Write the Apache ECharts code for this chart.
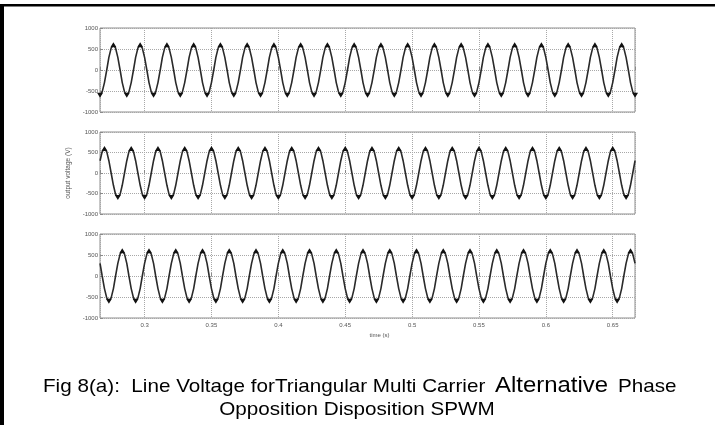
<!DOCTYPE html>
<html>
<head>
<meta charset="utf-8">
<script src="https://cdn.jsdelivr.net/npm/echarts@6/dist/echarts.min.js"></script>
<style>
  html, body { margin: 0; padding: 0; background: #fff; }
  #chart { width: 715px; height: 425px; }
</style>
</head>
<body>
<div id="chart"></div>
<script>
// Sample instants of the scope trace (s)
const timeS = [
  0.2667, 0.2683,
  0.2700, 0.2717, 0.2733, 0.2750, 0.2767, 0.2783,
  0.2800, 0.2817, 0.2833, 0.2850, 0.2867, 0.2883,
  0.2900, 0.2917, 0.2933, 0.2950, 0.2967, 0.2983,
  0.3000, 0.3017, 0.3033, 0.3050, 0.3067, 0.3083,
  0.3100, 0.3117, 0.3133, 0.3150, 0.3167, 0.3183,
  0.3200, 0.3217, 0.3233, 0.3250, 0.3267, 0.3283,
  0.3300, 0.3317, 0.3333, 0.3350, 0.3367, 0.3383,
  0.3400, 0.3417, 0.3433, 0.3450, 0.3467, 0.3483,
  0.3500, 0.3517, 0.3533, 0.3550, 0.3567, 0.3583,
  0.3600, 0.3617, 0.3633, 0.3650, 0.3667, 0.3683,
  0.3700, 0.3717, 0.3733, 0.3750, 0.3767, 0.3783,
  0.3800, 0.3817, 0.3833, 0.3850, 0.3867, 0.3883,
  0.3900, 0.3917, 0.3933, 0.3950, 0.3967, 0.3983,
  0.4000, 0.4017, 0.4033, 0.4050, 0.4067, 0.4083,
  0.4100, 0.4117, 0.4133, 0.4150, 0.4167, 0.4183,
  0.4200, 0.4217, 0.4233, 0.4250, 0.4267, 0.4283,
  0.4300, 0.4317, 0.4333, 0.4350, 0.4367, 0.4383,
  0.4400, 0.4417, 0.4433, 0.4450, 0.4467, 0.4483,
  0.4500, 0.4517, 0.4533, 0.4550, 0.4567, 0.4583,
  0.4600, 0.4617, 0.4633, 0.4650, 0.4667, 0.4683,
  0.4700, 0.4717, 0.4733, 0.4750, 0.4767, 0.4783,
  0.4800, 0.4817, 0.4833, 0.4850, 0.4867, 0.4883,
  0.4900, 0.4917, 0.4933, 0.4950, 0.4967, 0.4983,
  0.5000, 0.5017, 0.5033, 0.5050, 0.5067, 0.5083,
  0.5100, 0.5117, 0.5133, 0.5150, 0.5167, 0.5183,
  0.5200, 0.5217, 0.5233, 0.5250, 0.5267, 0.5283,
  0.5300, 0.5317, 0.5333, 0.5350, 0.5367, 0.5383,
  0.5400, 0.5417, 0.5433, 0.5450, 0.5467, 0.5483,
  0.5500, 0.5517, 0.5533, 0.5550, 0.5567, 0.5583,
  0.5600, 0.5617, 0.5633, 0.5650, 0.5667, 0.5683,
  0.5700, 0.5717, 0.5733, 0.5750, 0.5767, 0.5783,
  0.5800, 0.5817, 0.5833, 0.5850, 0.5867, 0.5883,
  0.5900, 0.5917, 0.5933, 0.5950, 0.5967, 0.5983,
  0.6000, 0.6017, 0.6033, 0.6050, 0.6067, 0.6083,
  0.6100, 0.6117, 0.6133, 0.6150, 0.6167, 0.6183,
  0.6200, 0.6217, 0.6233, 0.6250, 0.6267, 0.6283,
  0.6300, 0.6317, 0.6333, 0.6350, 0.6367, 0.6383,
  0.6400, 0.6417, 0.6433, 0.6450, 0.6467, 0.6483,
  0.6500, 0.6517, 0.6533, 0.6550, 0.6567, 0.6583,
  0.6600, 0.6617, 0.6633, 0.6650, 0.6667
];

// Line voltage Vab (V)
const vab = [
  -600, -520, -300, 0, 300, 520, 600, 520, 300, 0, -300, -520,
  -600, -520, -300, 0, 300, 520, 600, 520, 300, 0, -300, -520,
  -600, -520, -300, 0, 300, 520, 600, 520, 300, 0, -300, -520,
  -600, -520, -300, 0, 300, 520, 600, 520, 300, 0, -300, -520,
  -600, -520, -300, 0, 300, 520, 600, 520, 300, 0, -300, -520,
  -600, -520, -300, 0, 300, 520, 600, 520, 300, 0, -300, -520,
  -600, -520, -300, 0, 300, 520, 600, 520, 300, 0, -300, -520,
  -600, -520, -300, 0, 300, 520, 600, 520, 300, 0, -300, -520,
  -600, -520, -300, 0, 300, 520, 600, 520, 300, 0, -300, -520,
  -600, -520, -300, 0, 300, 520, 600, 520, 300, 0, -300, -520,
  -600, -520, -300, 0, 300, 520, 600, 520, 300, 0, -300, -520,
  -600, -520, -300, 0, 300, 520, 600, 520, 300, 0, -300, -520,
  -600, -520, -300, 0, 300, 520, 600, 520, 300, 0, -300, -520,
  -600, -520, -300, 0, 300, 520, 600, 520, 300, 0, -300, -520,
  -600, -520, -300, 0, 300, 520, 600, 520, 300, 0, -300, -520,
  -600, -520, -300, 0, 300, 520, 600, 520, 300, 0, -300, -520,
  -600, -520, -300, 0, 300, 520, 600, 520, 300, 0, -300, -520,
  -600, -520, -300, 0, 300, 520, 600, 520, 300, 0, -300, -520,
  -600, -520, -300, 0, 300, 520, 600, 520, 300, 0, -300, -520,
  -600, -520, -300, 0, 300, 520, 600, 520, 300, 0, -300, -520,
  -600
];

// Line voltage Vbc (V)
const vbc = [
  300, 520, 600, 520, 300, 0, -300, -520, -600, -520, -300, 0,
  300, 520, 600, 520, 300, 0, -300, -520, -600, -520, -300, 0,
  300, 520, 600, 520, 300, 0, -300, -520, -600, -520, -300, 0,
  300, 520, 600, 520, 300, 0, -300, -520, -600, -520, -300, 0,
  300, 520, 600, 520, 300, 0, -300, -520, -600, -520, -300, 0,
  300, 520, 600, 520, 300, 0, -300, -520, -600, -520, -300, 0,
  300, 520, 600, 520, 300, 0, -300, -520, -600, -520, -300, 0,
  300, 520, 600, 520, 300, 0, -300, -520, -600, -520, -300, 0,
  300, 520, 600, 520, 300, 0, -300, -520, -600, -520, -300, 0,
  300, 520, 600, 520, 300, 0, -300, -520, -600, -520, -300, 0,
  300, 520, 600, 520, 300, 0, -300, -520, -600, -520, -300, 0,
  300, 520, 600, 520, 300, 0, -300, -520, -600, -520, -300, 0,
  300, 520, 600, 520, 300, 0, -300, -520, -600, -520, -300, 0,
  300, 520, 600, 520, 300, 0, -300, -520, -600, -520, -300, 0,
  300, 520, 600, 520, 300, 0, -300, -520, -600, -520, -300, 0,
  300, 520, 600, 520, 300, 0, -300, -520, -600, -520, -300, 0,
  300, 520, 600, 520, 300, 0, -300, -520, -600, -520, -300, 0,
  300, 520, 600, 520, 300, 0, -300, -520, -600, -520, -300, 0,
  300, 520, 600, 520, 300, 0, -300, -520, -600, -520, -300, 0,
  300, 520, 600, 520, 300, 0, -300, -520, -600, -520, -300, 0,
  300
];

// Line voltage Vca (V)
const vca = [
  300, 0, -300, -520, -600, -520, -300, 0, 300, 520, 600, 520,
  300, 0, -300, -520, -600, -520, -300, 0, 300, 520, 600, 520,
  300, 0, -300, -520, -600, -520, -300, 0, 300, 520, 600, 520,
  300, 0, -300, -520, -600, -520, -300, 0, 300, 520, 600, 520,
  300, 0, -300, -520, -600, -520, -300, 0, 300, 520, 600, 520,
  300, 0, -300, -520, -600, -520, -300, 0, 300, 520, 600, 520,
  300, 0, -300, -520, -600, -520, -300, 0, 300, 520, 600, 520,
  300, 0, -300, -520, -600, -520, -300, 0, 300, 520, 600, 520,
  300, 0, -300, -520, -600, -520, -300, 0, 300, 520, 600, 520,
  300, 0, -300, -520, -600, -520, -300, 0, 300, 520, 600, 520,
  300, 0, -300, -520, -600, -520, -300, 0, 300, 520, 600, 520,
  300, 0, -300, -520, -600, -520, -300, 0, 300, 520, 600, 520,
  300, 0, -300, -520, -600, -520, -300, 0, 300, 520, 600, 520,
  300, 0, -300, -520, -600, -520, -300, 0, 300, 520, 600, 520,
  300, 0, -300, -520, -600, -520, -300, 0, 300, 520, 600, 520,
  300, 0, -300, -520, -600, -520, -300, 0, 300, 520, 600, 520,
  300, 0, -300, -520, -600, -520, -300, 0, 300, 520, 600, 520,
  300, 0, -300, -520, -600, -520, -300, 0, 300, 520, 600, 520,
  300, 0, -300, -520, -600, -520, -300, 0, 300, 520, 600, 520,
  300, 0, -300, -520, -600, -520, -300, 0, 300, 520, 600, 520,
  300
];

// Axis limits
const timeMin = 0.266667;
const timeMax = 0.666667;
const voltMin = -1000;
const voltMax = 1000;
const voltStep = 500;

const yName = 'output voltage (V)';
const xName = 'time (s)';
const captionLead = 'Fig 8(a):  Line Voltage forTriangular Multi Carrier';
const captionBig = 'Alternative';
const captionTail = 'Phase';
const captionLine2 = 'Opposition Disposition SPWM';

const tickFont = '"Liberation Sans Narrow", "Liberation Sans", Arial, sans-serif';
const captionFont = '"Liberation Sans", Arial, sans-serif';

const panels = [
  { top: 28, height: 84, values: vab },
  { top: 132, height: 82, values: vbc },
  { top: 234, height: 84, values: vca }
];

const gridLine = { show: true, lineStyle: { type: 'dotted', color: '#a8a8a8', width: 1 } };
const tickStyle = { show: true, inside: true, length: 3, lineStyle: { color: '#8a8a8a', width: 1 } };

const option = {
  animation: false,
  backgroundColor: '#ffffff',
  grid: panels.map(p => ({
    left: 100, right: 80, top: p.top, height: p.height,
    show: true, borderColor: '#8f8f8f', borderWidth: 1, backgroundColor: 'transparent'
  })),
  xAxis: panels.map((p, i) => ({
    type: 'value', gridIndex: i, min: timeMin, max: timeMax, splitNumber: 8,
    axisLine: { show: false },
    axisTick: tickStyle,
    splitLine: gridLine,
    axisLabel: {
      show: i === 2, fontSize: 6, color: '#555', margin: 4, fontFamily: tickFont,
      showMinLabel: false, showMaxLabel: false
    },
    name: i === 2 ? xName : '',
    nameLocation: 'middle', nameGap: 14,
    nameTextStyle: { fontSize: 6, color: '#555', fontFamily: tickFont, padding: [0, 0, 0, 24] }
  })),
  yAxis: panels.map((p, i) => ({
    type: 'value', gridIndex: i, min: voltMin, max: voltMax, interval: voltStep,
    axisLine: { show: false },
    axisTick: tickStyle,
    splitLine: gridLine,
    axisLabel: { fontSize: 6, color: '#555', margin: 2, fontFamily: tickFont, formatter: v => String(v) },
    name: i === 1 ? yName : '',
    nameLocation: 'middle', nameGap: 17, nameRotate: 90,
    nameTextStyle: { fontSize: 6.5, color: '#555', fontFamily: tickFont }
  })),
  series: panels.map((p, i) => ({
    type: 'line', xAxisIndex: i, yAxisIndex: i,
    data: timeS.map((t, k) => [t, p.values[k]]),
    showSymbol: true, showAllSymbol: true,
    symbol: v => (Math.abs(v[1]) >= 600 ? 'triangle' : 'none'),
    symbolRotate: v => (v[1] < 0 ? 180 : 0),
    symbolSize: [6, 5],
    itemStyle: { color: '#111' },
    lineStyle: { color: '#2a2a2a', width: 1.6 },
    silent: true
  })),
  graphic: [
    { type: 'rect', shape: { x: 0, y: 4, width: 715, height: 2.5 }, style: { fill: '#000' }, z: 100 },
    { type: 'rect', shape: { x: 0, y: 4, width: 4, height: 421 }, style: { fill: '#000' }, z: 100 },
    { type: 'text', x: 43, y: 387, scaleX: 1.087, z: 100,
      style: { text: captionLead, font: '19px ' + captionFont, fill: '#000', align: 'left', verticalAlign: 'middle' } },
    { type: 'text', x: 495, y: 386, scaleX: 1.087, z: 100,
      style: { text: captionBig, font: '22px ' + captionFont, fill: '#000', align: 'left', verticalAlign: 'middle' } },
    { type: 'text', x: 618, y: 387, scaleX: 1.087, z: 100,
      style: { text: captionTail, font: '19px ' + captionFont, fill: '#000', align: 'left', verticalAlign: 'middle' } },
    { type: 'text', x: 357, y: 410, scaleX: 1.087, z: 100,
      style: { text: captionLine2, font: '19px ' + captionFont, fill: '#000', align: 'center', verticalAlign: 'middle' } }
  ]
};

const chart = echarts.init(document.getElementById('chart'), null, { renderer: 'canvas' });
chart.setOption(option);
</script>
</body>
</html>
